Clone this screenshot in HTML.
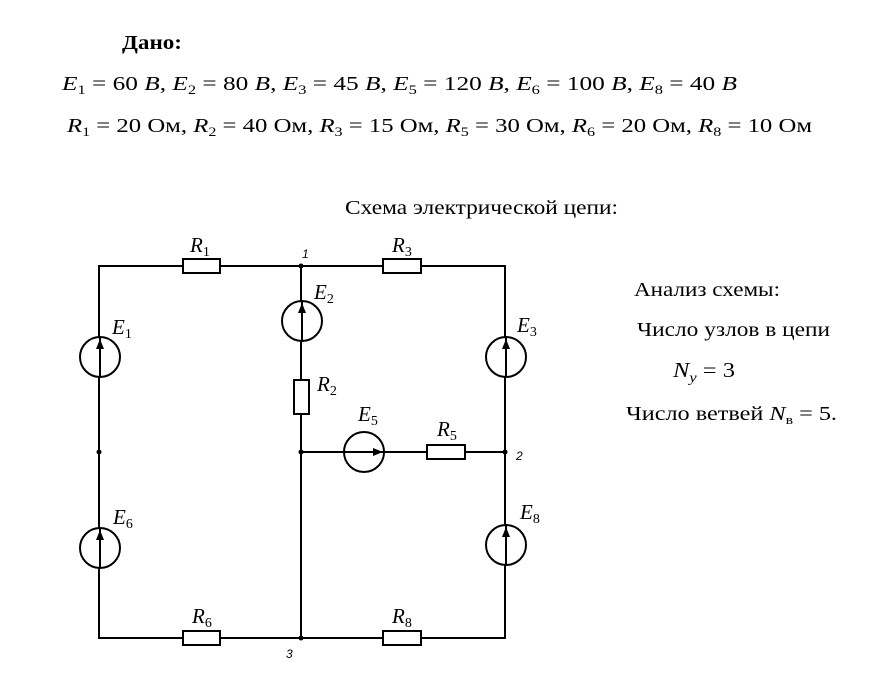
<!DOCTYPE html>
<html><head><meta charset="utf-8"><style>
html,body{margin:0;padding:0;background:#fff;width:873px;height:683px;overflow:hidden}
svg{display:block}
text{font-family:"Liberation Serif",serif;fill:#000}
.i{font-style:italic}
.s{font-family:"Liberation Serif",serif;font-style:italic}
.u{font-style:normal}
.n{font-family:"Liberation Sans",sans-serif;font-style:italic}
</style></head><body>
<svg width="873" height="683" viewBox="0 0 873 683" xmlns="http://www.w3.org/2000/svg">
<text x="122" y="49" font-size="20" font-weight="bold" textLength="60" lengthAdjust="spacingAndGlyphs">Дано:</text>
<text x="62" y="90" font-size="20" textLength="675" lengthAdjust="spacingAndGlyphs"><tspan class="i">E</tspan><tspan font-size="13" dy="4">1</tspan><tspan dy="-4"> = 60 </tspan><tspan class="i">B</tspan>, <tspan class="i">E</tspan><tspan font-size="13" dy="4">2</tspan><tspan dy="-4"> = 80 </tspan><tspan class="i">B</tspan>, <tspan class="i">E</tspan><tspan font-size="13" dy="4">3</tspan><tspan dy="-4"> = 45 </tspan><tspan class="i">B</tspan>, <tspan class="i">E</tspan><tspan font-size="13" dy="4">5</tspan><tspan dy="-4"> = 120 </tspan><tspan class="i">B</tspan>, <tspan class="i">E</tspan><tspan font-size="13" dy="4">6</tspan><tspan dy="-4"> = 100 </tspan><tspan class="i">B</tspan>, <tspan class="i">E</tspan><tspan font-size="13" dy="4">8</tspan><tspan dy="-4"> = 40 </tspan><tspan class="i">B</tspan></text>
<text x="67" y="132" font-size="20" textLength="745" lengthAdjust="spacingAndGlyphs"><tspan class="i">R</tspan><tspan font-size="13" dy="4">1</tspan><tspan dy="-4"> = 20 Ом, </tspan><tspan class="i">R</tspan><tspan font-size="13" dy="4">2</tspan><tspan dy="-4"> = 40 Ом, </tspan><tspan class="i">R</tspan><tspan font-size="13" dy="4">3</tspan><tspan dy="-4"> = 15 Ом, </tspan><tspan class="i">R</tspan><tspan font-size="13" dy="4">5</tspan><tspan dy="-4"> = 30 Ом, </tspan><tspan class="i">R</tspan><tspan font-size="13" dy="4">6</tspan><tspan dy="-4"> = 20 Ом, </tspan><tspan class="i">R</tspan><tspan font-size="13" dy="4">8</tspan><tspan dy="-4"> = 10 Ом</tspan></text>
<text x="345" y="214" font-size="20" textLength="273" lengthAdjust="spacingAndGlyphs">Схема электрической цепи:</text>
<text x="634" y="296" font-size="20" textLength="146" lengthAdjust="spacingAndGlyphs">Анализ схемы:</text>
<text x="637" y="336" font-size="20" textLength="193" lengthAdjust="spacingAndGlyphs">Число узлов в цепи</text>
<text x="673" y="377" font-size="21" textLength="62" lengthAdjust="spacingAndGlyphs"><tspan class="i">N</tspan><tspan class="i" font-size="14" dy="5">y</tspan><tspan dy="-5"> = 3</tspan></text>
<text x="626" y="420" font-size="20" textLength="211" lengthAdjust="spacingAndGlyphs">Число ветвей <tspan class="i">N</tspan><tspan font-size="13" dy="4">в</tspan><tspan dy="-4"> = 5.</tspan></text>

<g stroke="#000" stroke-width="2" fill="none">
<path d="M99 266H505V638H99Z"/>
<path d="M301 266V638M301 452H505"/>
</g>
<g stroke="#000" stroke-width="2" fill="#fff">
<rect x="183" y="259" width="37" height="14"/>
<rect x="383" y="259" width="38" height="14"/>
<rect x="183" y="631" width="37" height="14"/>
<rect x="383" y="631" width="38" height="14"/>
<rect x="294" y="380" width="15" height="34"/>
<rect x="427" y="445" width="38" height="14"/>
<circle cx="100" cy="357" r="20"/>
<circle cx="302" cy="321" r="20"/>
<circle cx="506" cy="357" r="20"/>
<circle cx="100" cy="548" r="20"/>
<circle cx="506" cy="545" r="20"/>
<circle cx="364" cy="452" r="20"/>
</g>
<g stroke="#000" stroke-width="2">
<path d="M100 337V377M302 301V341M506 337V377M100 528V568M506 525V565M344 452H384"/>
</g>
<g fill="#000">
<path d="M100 339l-4 10h8z"/><path d="M302 303l-4 10h8z"/><path d="M506 339l-4 10h8z"/>
<path d="M100 530l-4 10h8z"/><path d="M506 527l-4 10h8z"/><path d="M383 452l-10 -4v8z"/>
<circle cx="301" cy="266" r="2.5"/><circle cx="301" cy="452" r="2.5"/><circle cx="505" cy="452" r="2.5"/>
<circle cx="99" cy="452" r="2.5"/><circle cx="301" cy="638" r="2.5"/>
</g>
<g font-size="21">
<text x="190" y="252" class="s">R<tspan class="u" font-size="14" dy="4">1</tspan></text>
<text x="392" y="252" class="s">R<tspan class="u" font-size="14" dy="4">3</tspan></text>
<text x="192" y="623" class="s">R<tspan class="u" font-size="14" dy="4">6</tspan></text>
<text x="392" y="623" class="s">R<tspan class="u" font-size="14" dy="4">8</tspan></text>
<text x="317" y="391" class="s">R<tspan class="u" font-size="14" dy="4">2</tspan></text>
<text x="437" y="436" class="s">R<tspan class="u" font-size="14" dy="4">5</tspan></text>
<text x="112" y="334" class="s">E<tspan class="u" font-size="14" dy="4">1</tspan></text>
<text x="314" y="299" class="s">E<tspan class="u" font-size="14" dy="4">2</tspan></text>
<text x="517" y="332" class="s">E<tspan class="u" font-size="14" dy="4">3</tspan></text>
<text x="358" y="421" class="s">E<tspan class="u" font-size="14" dy="4">5</tspan></text>
<text x="113" y="524" class="s">E<tspan class="u" font-size="14" dy="4">6</tspan></text>
<text x="520" y="519" class="s">E<tspan class="u" font-size="14" dy="4">8</tspan></text>
</g>
<g font-size="12">
<text x="302" y="258" class="n">1</text>
<text x="516" y="460" class="n">2</text>
<text x="286" y="658" class="n">3</text>
</g>
</svg>
</body></html>
